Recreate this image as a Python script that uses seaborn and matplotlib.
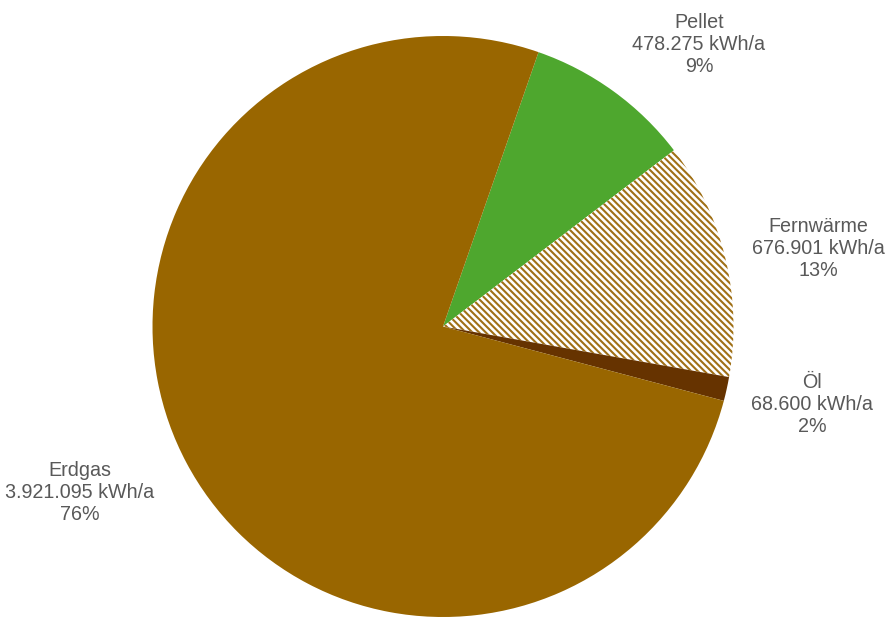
import matplotlib
matplotlib.use("Agg")
import matplotlib.pyplot as plt
import seaborn as sns

categories = ["Pellet", "Fernwärme", "Öl", "Erdgas"]
values = [478275, 676901, 68600, 3921095]
value_labels = ["478.275 kWh/a", "676.901 kWh/a", "68.600 kWh/a", "3.921.095 kWh/a"]
pct_labels = ["9%", "13%", "2%", "76%"]

sns.set_theme(style="white")
plt.rcParams["font.family"] = ["Liberation Sans", "DejaVu Sans"]
plt.rcParams["hatch.linewidth"] = 1.5

colors = sns.color_palette(["#4EA72E", "#FFFFFF", "#663300", "#996600"])
hatches = [None, "\\\\\\\\\\", None, None]
label_pos = [(0.881, 0.972), (1.291, 0.270), (1.270, -0.267), (-1.250, -0.573)]

fig = plt.figure(figsize=(8.89, 6.17), dpi=100)
ax = fig.add_axes([0, 0, 1, 1])
wedges, _ = ax.pie(values, colors=colors, startangle=70.8, counterclock=False,
                   radius=1.0, wedgeprops=dict(linewidth=0))
for w, h in zip(wedges, hatches):
    if h:
        w.set_hatch(h)
        w.set_edgecolor("#A07016")
        w.set_linewidth(0)

for cat, vl, pl, (x, y) in zip(categories, value_labels, pct_labels, label_pos):
    ax.text(x, y, f"{cat}\n{vl}\n{pl}", ha="center", va="center",
            fontsize=14.2, color="#595959", linespacing=1.2)

ax.set_xlim(-443 / 290.5, 446 / 290.5)
ax.set_ylim(-(617 - 326.5) / 290.5, 326.5 / 290.5)
ax.set_aspect("equal")
ax.axis("off")
fig.savefig("out.png", dpi=100)
